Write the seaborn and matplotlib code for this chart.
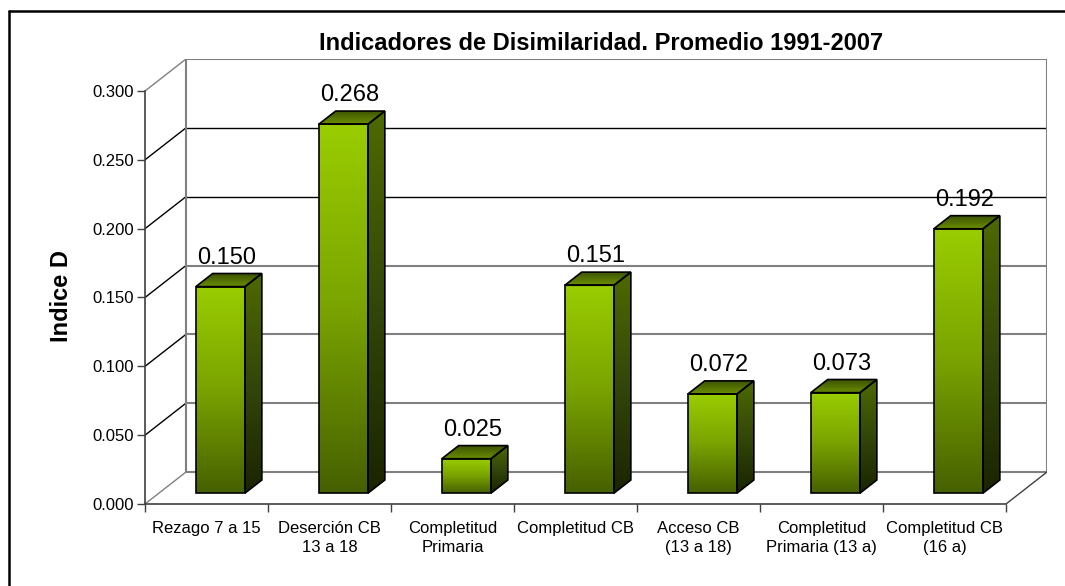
import numpy as np
import matplotlib
matplotlib.use("Agg")
import matplotlib.pyplot as plt
from matplotlib.patches import Polygon
from matplotlib.colors import LinearSegmentedColormap
from matplotlib.lines import Line2D
import pandas as pd
import seaborn as sns

categories = ["Rezago 7 a 15", "Deserción CB\n13 a 18", "Completitud\nPrimaria",
              "Completitud CB", "Acceso CB\n(13 a 18)", "Completitud\nPrimaria (13 a)",
              "Completitud CB\n(16 a)"]
values = [0.150, 0.268, 0.025, 0.151, 0.072, 0.073, 0.192]
y_ticks = [0.0, 0.05, 0.10, 0.15, 0.20, 0.25, 0.30]
y_tick_labels = ["0.000", "0.050", "0.100", "0.150", "0.200", "0.250", "0.300"]
title = "Indicadores de Disimilaridad. Promedio 1991-2007"
y_label = "Indice D"

sns.set_style("white")
plt.rcParams["font.family"] = ["Liberation Sans", "DejaVu Sans"]
plt.rcParams["text.color"] = "black"
plt.rcParams["xtick.color"] = "black"
plt.rcParams["ytick.color"] = "black"

# fake 3d depth: full wall depth in data units
DX = 41 / 123
DY = 32 / 1376.7
D0, D1 = 0.34, 0.75   # bar depth range (fraction of wall depth)
n = len(categories)

fig = plt.figure(figsize=(10.65, 5.86), dpi=100)
ax = fig.add_axes([145 / 1065, 1 - 504 / 586, (1047 - 145) / 1065, (504 - 59) / 586])

df = pd.DataFrame({"cat": categories, "val": values})
sns.barplot(data=df, x="cat", y="val", ax=ax, width=0.4, color="#99cc00",
            edgecolor="black", linewidth=1.2, zorder=4)

front_cmap = LinearSegmentedColormap.from_list("front", ["#466000", "#7aa300", "#9acd00"])
side_cmap = LinearSegmentedColormap.from_list("side", ["#1a2400", "#33470a", "#4e6a00"])
top_cmap = LinearSegmentedColormap.from_list("top", ["#3a5000", "#6a8e00"])
grad = np.linspace(1, 0, 256).reshape(-1, 1)

ddx = (D1 - D0) * DX
ddy = (D1 - D0) * DY

for p, v in zip(ax.patches, values):
    p.set_x(p.get_x() + D0 * DX)
    p.set_y(D0 * DY)
    p.set_facecolor("none")
    xl = p.get_x()
    xr = xl + p.get_width()
    yb = D0 * DY
    yt = v + D0 * DY

    im = ax.imshow(grad, cmap=front_cmap, extent=[xl, xr, yb, yt], aspect="auto", zorder=3)
    im.set_clip_path(p)

    side = Polygon([(xr, yb), (xr + ddx, yb + ddy), (xr + ddx, yt + ddy), (xr, yt)],
                   closed=True, facecolor="none", edgecolor="black", lw=1.2, zorder=4)
    ax.add_patch(side)
    im = ax.imshow(grad, cmap=side_cmap, extent=[xr, xr + ddx, yb, yt + ddy], aspect="auto", zorder=3)
    im.set_clip_path(side)

    top = Polygon([(xl, yt), (xr, yt), (xr + ddx, yt + ddy), (xl + ddx, yt + ddy)],
                  closed=True, facecolor="none", edgecolor="black", lw=1.2, zorder=4)
    ax.add_patch(top)
    im = ax.imshow(1 - grad, cmap=top_cmap, extent=[xl, xr + ddx, yt, yt + ddy], aspect="auto", zorder=3)
    im.set_clip_path(top)

    ax.text(xl + p.get_width() / 2 + 0.05, v + D1 * DY + 0.0072, f"{v:.3f}",
            ha="center", va="baseline", fontsize=17, zorder=5)

# walls and gridlines
x0, x1 = -0.5, n - 0.5
for v in y_ticks:
    c = "black" if v in (0.20, 0.25) else "#808080"
    lw = 1.0 if c == "black" else 1.5
    ax.plot([x0 + DX, x1 + DX], [v + DY, v + DY], color=c, lw=lw, zorder=1)
    dc = "#808080" if v in (0.0, 0.30) else "black"
    ax.plot([x0, x0 + DX], [v, v + DY], color=dc, lw=1.0, zorder=1)
ax.plot([x0 + DX, x0 + DX], [DY, 0.30 + DY], color="#808080", lw=1.5, zorder=1)
ax.plot([x1 + DX, x1 + DX], [DY, 0.30 + DY], color="#808080", lw=1.5, zorder=1)
ax.plot([x1, x1 + DX], [0, DY], color="#404040", lw=1.0, zorder=1)

ax.set_xlim(x0, x1 + DX)
ax.set_ylim(0, 0.30 + DY)

for s in ["top", "right"]:
    ax.spines[s].set_visible(False)
ax.spines["left"].set_bounds(0, 0.30)
ax.spines["bottom"].set_bounds(x0, x1)
for s in ["left", "bottom"]:
    ax.spines[s].set_color("#404040")
    ax.spines[s].set_linewidth(1.2)

ax.set_yticks(y_ticks)
ax.set_yticklabels(y_tick_labels, fontsize=12)
ax.set_xticks(range(n))
ax.set_xticklabels(categories, fontsize=12, linespacing=1.32)
ax.set_xticks(np.arange(x0, x1 + 0.01, 1.0), minor=True)
ax.tick_params(axis="y", direction="out", length=6, width=1.0, color="#404040", pad=2, left=True)
ax.tick_params(axis="x", which="major", length=0, pad=12)
ax.tick_params(axis="x", which="minor", direction="out", length=5.5, width=1.0, color="#404040", bottom=True)
ax.set_xlabel("")
ax.set_ylabel("")
ax.patch.set_alpha(0)

fig.text(601 / 1065, 1 - 50 / 586, title, ha="center", va="baseline",
         fontsize=17, fontweight="bold")
fig.text(61 / 1065, 1 - 296 / 586, y_label, ha="center", va="center",
         rotation=90, fontsize=17, fontweight="bold")

# outer chart frame (top and left edges visible)
fig.add_artist(Line2D([9 / 1065, 1.0], [1 - 11 / 586, 1 - 11 / 586], color="black", lw=1.8))
fig.add_artist(Line2D([9 / 1065, 9 / 1065], [0.0, 1 - 11 / 586], color="black", lw=1.8))

fig.savefig("out.png", dpi=100)
